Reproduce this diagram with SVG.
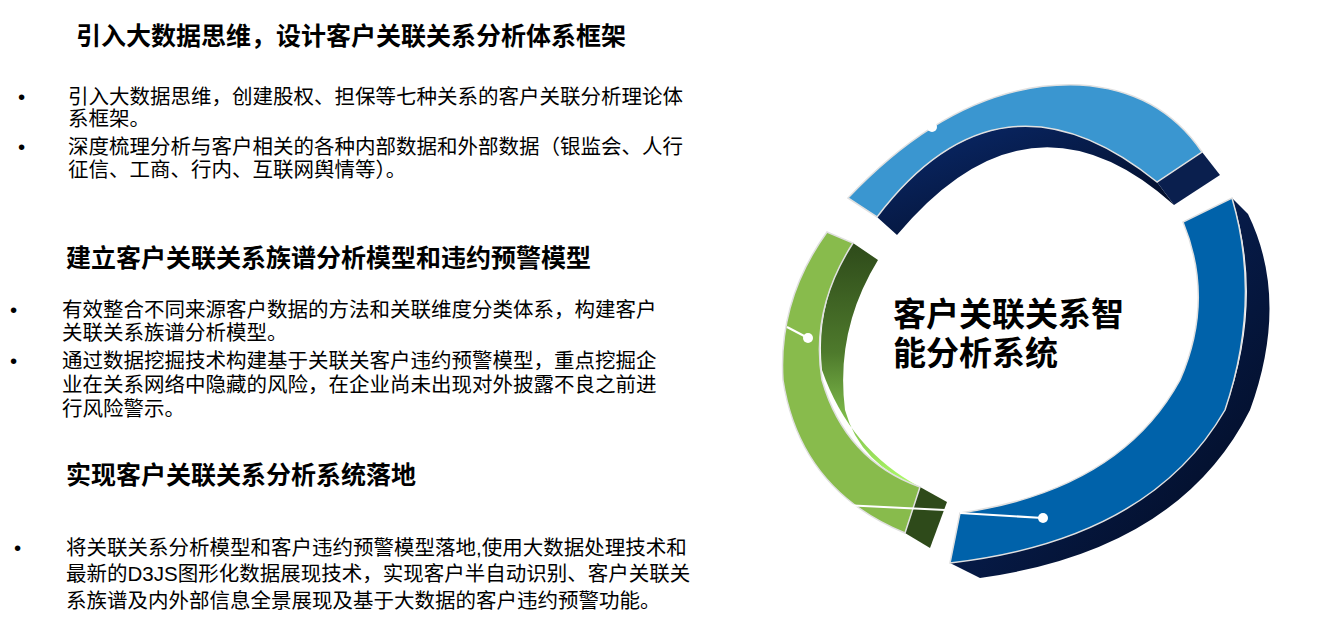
<svg xmlns="http://www.w3.org/2000/svg" width="1317" height="621" viewBox="0 0 1317 621">
<defs>
<style>
.h{font-family:"Liberation Sans","Noto Sans CJK SC",sans-serif;font-weight:bold;font-size:25px;fill:#000}
.t{font-family:"Liberation Sans","Noto Sans CJK SC",sans-serif;font-size:20.5px;fill:#000}
.c{font-family:"Liberation Sans","Noto Sans CJK SC",sans-serif;font-weight:bold;font-size:33px;fill:#000}
.e{stroke:#e0e0e0;stroke-width:1.5}
</style>
<linearGradient id="gin" x1="0" y1="0" x2="0" y2="1">
<stop offset="0" stop-color="#2e4a1a"/><stop offset="0.45" stop-color="#4e7a2c"/><stop offset="1" stop-color="#b0ff6a"/>
</linearGradient>
<linearGradient id="dk" x1="0" y1="0" x2="1" y2="1">
<stop offset="0" stop-color="#0a2a6e"/><stop offset="1" stop-color="#020a1e"/>
</linearGradient>
</defs>
<g id="text-left">
<text class="h" x="76" y="45">引入大数据思维，设计客户关联关系分析体系框架</text>
<text class="t" x="18" y="104">•</text>
<text class="t" x="68" y="104">引入大数据思维，创建股权、担保等七种关系的客户关联分析理论体</text>
<text class="t" x="68" y="126">系框架。</text>
<text class="t" x="18" y="154">•</text>
<text class="t" x="68" y="154">深度梳理分析与客户相关的各种内部数据和外部数据（银监会、人行</text>
<text class="t" x="68" y="177">征信、工商、行内、互联网舆情等）。</text>
<text class="h" x="66" y="267">建立客户关联关系族谱分析模型和违约预警模型</text>
<text class="t" x="10" y="317">•</text>
<text class="t" x="62" y="317">有效整合不同来源客户数据的方法和关联维度分类体系，构建客户</text>
<text class="t" x="62" y="340">关联关系族谱分析模型。</text>
<text class="t" x="10" y="368">•</text>
<text class="t" x="62" y="368">通过数据挖掘技术构建基于关联关客户违约预警模型，重点挖掘企</text>
<text class="t" x="62" y="392">业在关系网络中隐藏的风险，在企业尚未出现对外披露不良之前进</text>
<text class="t" x="62" y="416">行风险警示。</text>
<text class="h" x="66" y="484">实现客户关联关系分析系统落地</text>
<text class="t" x="14" y="555">•</text>
<text class="t" x="66" y="555">将关联关系分析模型和客户违约预警模型落地,使用大数据处理技术和</text>
<text class="t" x="66" y="581">最新的D3JS图形化数据展现技术，实现客户半自动识别、客户关联关</text>
<text class="t" x="66" y="608">系族谱及内外部信息全景展现及基于大数据的客户违约预警功能。</text>
</g>
<g id="ring-top">
<path d="M877,217 Q1000,55 1157,182 L1174,205 Q1030,76 897,235 Z" fill="url(#dk)"/>
<path d="M1157,182 L1202,152 L1220,175 L1174,205 Z" fill="#0a1f4e"/>
<path class="e" d="M848,198 Q960,80 1080,85 Q1160,90 1202,152 L1157,182 Q1000,55 877,217 Z" fill="#3a96d0"/>
</g>
<g id="ring-right">
<path d="M1232,198 L1248,214 Q1290,300 1250,410 Q1180,550 980,578 L950,563 Q1140,540 1225,410 Q1265,300 1232,198 Z" fill="url(#dk)"/>
<path class="e" d="M1232,198 Q1262,300 1225,410 Q1150,540 950,563 L960,513 Q1120,490 1180,380 Q1215,300 1183,222 Z" fill="#0062aa"/>
</g>
<g id="ring-green">
<path d="M853,243 L878,260 Q835,330 845,410 Q860,465 920,487 Q850,450 822,370 Q815,300 853,243 Z" fill="url(#gin)"/>
<path d="M920,487 L947,502 L930,548 L905,533 Z" fill="#2e4a1a"/>
<path class="e" d="M827,232 L853,243 Q810,310 822,380 Q845,460 920,487 L905,533 Q800,490 783,380 Q778,300 827,232 Z" fill="#88bb4c"/>
</g>
<g id="center-label">
<text class="c" x="893" y="326">客户关联关系智</text>
<text class="c" x="893" y="365">能分析系统</text>
</g>
<g id="connectors" stroke="#fff" stroke-width="2" fill="#fff">
<circle cx="932" cy="127" r="5" stroke="none"/>
<line x1="787" y1="327" x2="808" y2="338"/>
<circle cx="808" cy="338" r="5" stroke="none"/>
<line x1="843" y1="505" x2="945" y2="510"/>
<line x1="960" y1="513" x2="1043" y2="518"/>
<circle cx="1043" cy="518" r="5" stroke="none"/>
</g>
</svg>
